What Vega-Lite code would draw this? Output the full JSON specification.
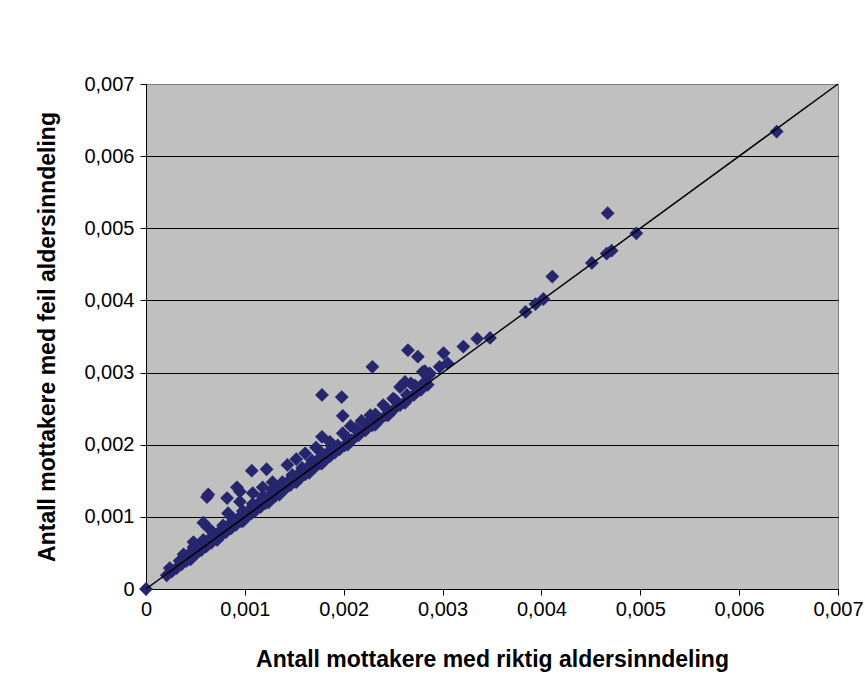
{
  "$schema": "https://vega.github.io/schema/vega-lite/v6.json",
  "width": 692,
  "height": 505,
  "autosize": {"type": "none"},
  "padding": {"left": 146, "top": 84, "right": 27, "bottom": 107},
  "background": "white",
  "config": {
    "view": {"fill": "#C0C0C0", "stroke": "#808080", "strokeWidth": 1},
    "axis": {
      "labelFont": "Liberation Sans",
      "labelFontSize": 20,
      "labelColor": "black",
      "titleFont": "Liberation Sans",
      "titleFontSize": 23,
      "titleFontWeight": "bold",
      "titleColor": "black",
      "tickColor": "black",
      "tickSize": 6,
      "domainColor": "black"
    }
  },
  "datasets": {
    "pts": [
      {"riktig": 0, "feil": 0},
      {"riktig": 0.00021, "feil": 0.00019},{"riktig": 0.00026, "feil": 0.00024},{"riktig": 0.00031, "feil": 0.00029},{"riktig": 0.00036, "feil": 0.00034},{"riktig": 0.00041, "feil": 0.00039},{"riktig": 0.00046, "feil": 0.00044},{"riktig": 0.00051, "feil": 0.00049},{"riktig": 0.00056, "feil": 0.00054},{"riktig": 0.00061, "feil": 0.00059},{"riktig": 0.00066, "feil": 0.00064},{"riktig": 0.00071, "feil": 0.00069},{"riktig": 0.00076, "feil": 0.00074},{"riktig": 0.00081, "feil": 0.00079},{"riktig": 0.00086, "feil": 0.00084},{"riktig": 0.00091, "feil": 0.00089},{"riktig": 0.00096, "feil": 0.00094},{"riktig": 0.00101, "feil": 0.00099},{"riktig": 0.00106, "feil": 0.00104},{"riktig": 0.00111, "feil": 0.00109},{"riktig": 0.00116, "feil": 0.00114},{"riktig": 0.00121, "feil": 0.00119},{"riktig": 0.00126, "feil": 0.00124},{"riktig": 0.00131, "feil": 0.00129},{"riktig": 0.00136, "feil": 0.00134},{"riktig": 0.00141, "feil": 0.00139},{"riktig": 0.00146, "feil": 0.00144},{"riktig": 0.00151, "feil": 0.00149},{"riktig": 0.00156, "feil": 0.00154},{"riktig": 0.00161, "feil": 0.00159},{"riktig": 0.00166, "feil": 0.00164},{"riktig": 0.00171, "feil": 0.00169},{"riktig": 0.00176, "feil": 0.00174},{"riktig": 0.00181, "feil": 0.00179},{"riktig": 0.00186, "feil": 0.00184},{"riktig": 0.00191, "feil": 0.00189},{"riktig": 0.00196, "feil": 0.00194},{"riktig": 0.00201, "feil": 0.00199},{"riktig": 0.00208, "feil": 0.00206},{"riktig": 0.00215, "feil": 0.00213},{"riktig": 0.00222, "feil": 0.0022},{"riktig": 0.00229, "feil": 0.00227},{"riktig": 0.00236, "feil": 0.00234},{"riktig": 0.00243, "feil": 0.00241},{"riktig": 0.0025, "feil": 0.00248},{"riktig": 0.00257, "feil": 0.00255},{"riktig": 0.00264, "feil": 0.00262},{"riktig": 0.00271, "feil": 0.00269},{"riktig": 0.00278, "feil": 0.00276},{"riktig": 0.00285, "feil": 0.00283},
      {"riktig": 0.00045, "feil": 0.00041},{"riktig": 0.00072, "feil": 0.00068},{"riktig": 0.00098, "feil": 0.00094},{"riktig": 0.00124, "feil": 0.0012},{"riktig": 0.00152, "feil": 0.00148},{"riktig": 0.00178, "feil": 0.00174},{"riktig": 0.00204, "feil": 0.002},{"riktig": 0.00232, "feil": 0.00228},{"riktig": 0.00262, "feil": 0.00258},{"riktig": 0.00135, "feil": 0.00131},{"riktig": 0.00165, "feil": 0.00161},{"riktig": 0.00245, "feil": 0.00241},
      {"riktig": 0.00024, "feil": 0.00029},{"riktig": 0.00034, "feil": 0.00039},{"riktig": 0.00044, "feil": 0.00049},{"riktig": 0.00054, "feil": 0.00059},{"riktig": 0.00064, "feil": 0.00069},{"riktig": 0.00074, "feil": 0.00079},{"riktig": 0.00084, "feil": 0.00089},{"riktig": 0.00094, "feil": 0.00099},{"riktig": 0.00104, "feil": 0.00109},{"riktig": 0.00114, "feil": 0.00119},{"riktig": 0.00124, "feil": 0.00129},{"riktig": 0.00134, "feil": 0.00139},{"riktig": 0.00144, "feil": 0.00149},{"riktig": 0.00154, "feil": 0.00159},{"riktig": 0.00164, "feil": 0.00169},{"riktig": 0.00174, "feil": 0.00179},{"riktig": 0.00184, "feil": 0.00189},{"riktig": 0.00194, "feil": 0.00199},{"riktig": 0.00204, "feil": 0.00209},{"riktig": 0.00214, "feil": 0.00219},{"riktig": 0.00224, "feil": 0.00229},{"riktig": 0.00234, "feil": 0.00239},{"riktig": 0.00244, "feil": 0.00249},{"riktig": 0.00254, "feil": 0.00259},{"riktig": 0.00264, "feil": 0.00269},{"riktig": 0.00274, "feil": 0.00279},{"riktig": 0.00282, "feil": 0.00287},
      {"riktig": 0.00038, "feil": 0.00048},{"riktig": 0.00048, "feil": 0.00058},{"riktig": 0.00058, "feil": 0.00068},{"riktig": 0.00068, "feil": 0.00078},{"riktig": 0.00078, "feil": 0.00088},{"riktig": 0.00088, "feil": 0.00098},{"riktig": 0.00098, "feil": 0.00108},{"riktig": 0.00108, "feil": 0.00118},{"riktig": 0.00118, "feil": 0.00128},{"riktig": 0.00128, "feil": 0.00138},{"riktig": 0.00138, "feil": 0.00148},{"riktig": 0.00148, "feil": 0.00158},{"riktig": 0.00158, "feil": 0.00168},{"riktig": 0.00168, "feil": 0.00178},{"riktig": 0.00178, "feil": 0.00188},{"riktig": 0.00188, "feil": 0.00198},{"riktig": 0.00212, "feil": 0.00222},{"riktig": 0.00232, "feil": 0.00242},{"riktig": 0.00252, "feil": 0.00262},{"riktig": 0.00272, "feil": 0.00282},
      {"riktig": 0.00048, "feil": 0.00065},{"riktig": 0.00058, "feil": 0.00092},{"riktig": 0.00062, "feil": 0.00086},{"riktig": 0.00083, "feil": 0.00105},{"riktig": 0.00095, "feil": 0.00121},{"riktig": 0.00108, "feil": 0.00133},{"riktig": 0.00118, "feil": 0.00141},{"riktig": 0.00128, "feil": 0.00148},{"riktig": 0.00143, "feil": 0.00172},{"riktig": 0.00152, "feil": 0.0018},{"riktig": 0.00161, "feil": 0.00188},{"riktig": 0.00172, "feil": 0.00196},{"riktig": 0.00178, "feil": 0.00211},{"riktig": 0.00186, "feil": 0.00204},{"riktig": 0.00199, "feil": 0.00216},{"riktig": 0.00207, "feil": 0.00226},{"riktig": 0.00218, "feil": 0.00233},{"riktig": 0.00227, "feil": 0.00241},{"riktig": 0.0024, "feil": 0.00255},{"riktig": 0.0025, "feil": 0.00264},{"riktig": 0.00257, "feil": 0.0028},{"riktig": 0.00262, "feil": 0.00287},{"riktig": 0.00268, "feil": 0.00285},{"riktig": 0.0028, "feil": 0.00301},{"riktig": 0.00286, "feil": 0.00296},
      {"riktig": 0.00287, "feil": 0.00299},{"riktig": 0.00297, "feil": 0.00308},{"riktig": 0.00305, "feil": 0.00313},
      {"riktig": 0.000617, "feil": 0.001275},{"riktig": 0.00063, "feil": 0.00131},{"riktig": 0.00082, "feil": 0.00126},{"riktig": 0.00092, "feil": 0.00141},{"riktig": 0.00095, "feil": 0.00135},{"riktig": 0.00107, "feil": 0.00164},{"riktig": 0.00122, "feil": 0.00166},
      {"riktig": 0.00178, "feil": 0.00269},{"riktig": 0.00198, "feil": 0.00266},{"riktig": 0.00199, "feil": 0.0024},{"riktig": 0.00229, "feil": 0.00308},
      {"riktig": 0.00265, "feil": 0.00331},{"riktig": 0.00275, "feil": 0.00322},{"riktig": 0.00301, "feil": 0.00327},{"riktig": 0.00282, "feil": 0.00302},{"riktig": 0.00321, "feil": 0.00336},{"riktig": 0.00335, "feil": 0.00347},{"riktig": 0.00348, "feil": 0.00348},
      {"riktig": 0.00384, "feil": 0.00384},{"riktig": 0.00394, "feil": 0.00395},{"riktig": 0.00402, "feil": 0.00402},{"riktig": 0.00411, "feil": 0.00433},
      {"riktig": 0.00451, "feil": 0.00452},{"riktig": 0.00466, "feil": 0.00465},{"riktig": 0.00471, "feil": 0.00469},{"riktig": 0.00467, "feil": 0.00521},{"riktig": 0.00496, "feil": 0.00493},
      {"riktig": 0.00638, "feil": 0.00634}
    ],
    "diag": [{"riktig": 0, "feil": 0}, {"riktig": 0.007, "feil": 0.007}]
  },
  "layer": [
    {
      "data": {"name": "pts"},
      "mark": {"type": "point", "shape": "diamond", "filled": true, "size": 190, "color": "#26266F", "opacity": 1},
      "encoding": {
        "x": {
          "field": "riktig", "type": "quantitative",
          "scale": {"domain": [0, 0.007], "nice": false, "zero": true},
          "axis": {
            "title": "Antall mottakere med riktig aldersinndeling",
            "values": [0, 0.001, 0.002, 0.003, 0.004, 0.005, 0.006, 0.007],
            "grid": false,
            "labelExpr": "datum.value == 0 ? '0' : replace(format(datum.value, '.3f'), '.', ',')",
            "labelPadding": 4,
            "titlePadding": 29,
            "labelFlush": false,
            "labelOverlap": false
          }
        },
        "y": {
          "field": "feil", "type": "quantitative",
          "scale": {"domain": [0, 0.007], "nice": false, "zero": true},
          "axis": {
            "title": "Antall mottakere med feil aldersinndeling",
            "values": [0, 0.001, 0.002, 0.003, 0.004, 0.005, 0.006, 0.007],
            "grid": true,
            "gridColor": {"condition": {"test": "datum.value > 0.0069 || datum.value < 0.0001", "value": "#808080"}, "value": "black"},
            "gridWidth": 1,
            "labelExpr": "datum.value == 0 ? '0' : replace(format(datum.value, '.3f'), '.', ',')",
            "labelPadding": 6,
            "titlePadding": 24,
            "labelFlush": false,
            "labelOverlap": false
          }
        }
      }
    },
    {
      "data": {"name": "diag"},
      "mark": {"type": "line", "color": "black", "strokeWidth": 1.5},
      "encoding": {
        "x": {"field": "riktig", "type": "quantitative"},
        "y": {"field": "feil", "type": "quantitative"}
      }
    }
  ]
}
